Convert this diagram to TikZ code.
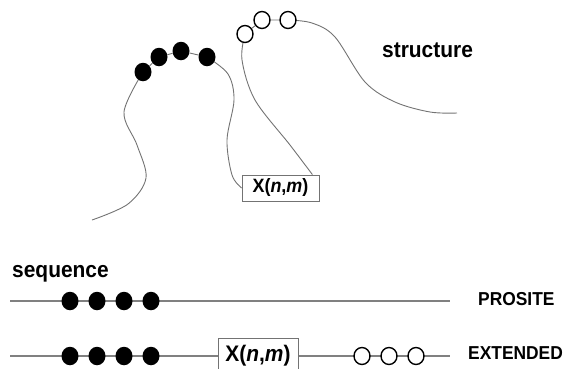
\documentclass[tikz,border=0pt]{standalone}
\usepackage{graphicx}
\usepackage{fontspec}
\setmainfont{Liberation Sans}
\usetikzlibrary{backgrounds,shapes.geometric}
\newcommand{\narrow}[1]{\scalebox{0.93}[1]{#1}}
\begin{document}
\begin{tikzpicture}[x=1pt,y=-1pt,
  strand/.style={draw=black!55, line width=0.9pt},
  seqline/.style={draw=black!50, line width=1.1pt},
  bdot/.style={ellipse, fill=black, inner sep=0pt, minimum width=17pt, minimum height=18.5pt},
  odot/.style={ellipse, draw=black, line width=1.4pt, fill=white, inner sep=0pt, minimum width=16pt, minimum height=17pt},
  xbox/.style={draw=black!55, line width=0.8pt, fill=white, inner sep=0pt},
  lab/.style={font=\bfseries\fontsize{22.5}{26}\selectfont, inner sep=0pt},
  tag/.style={font=\bfseries\fontsize{18.7}{22}\selectfont, inner sep=0pt}
]
\useasboundingbox (0,0) rectangle (565,368);
\clip (0,0) rectangle (565,368);

% ---------- structure ----------
\node[bdot] (b1) at (143,72) {};
\node[bdot] (b2) at (159,57) {};
\node[bdot] (b3) at (181,51) {};
\node[bdot] (b4) at (207,57) {};
\node[odot] (c1) at (245,34) {};
\node[odot] (c2) at (262,20) {};
\node[odot] (c3) at (288,20) {};
\node[xbox, minimum width=77pt, minimum height=26pt,
      font=\bfseries\fontsize{19.3}{22}\selectfont] (xtop) at (280.5,188) {\narrow{X(\textit{n},\textit{m})}};
\coordinate (s1) at (92,220);
\coordinate (s2) at (457,113);
\node[lab, anchor=base west] (structure) at (382,57.5) {\narrow{structure}};

% ---------- sequence ----------
\node[lab, anchor=base west] (sequence) at (12,277) {\narrow{sequence}};
\coordinate (p0) at (10,301);
\coordinate (p1) at (450,301);
\node[bdot] (pb1) at (70,301) {};
\node[bdot] (pb2) at (97,301) {};
\node[bdot] (pb3) at (124,301) {};
\node[bdot] (pb4) at (151,301) {};
\node[tag, anchor=base west] (prosite) at (478,305.5) {\narrow{PROSITE}};

\coordinate (e0) at (10,356);
\coordinate (e1) at (450,356);
\node[bdot] (eb1) at (70,356) {};
\node[bdot] (eb2) at (97,356) {};
\node[bdot] (eb3) at (124,356) {};
\node[bdot] (eb4) at (151,356) {};
\node[xbox, minimum width=80pt, minimum height=36pt,
      font=\bfseries\fontsize{22.5}{26}\selectfont] (xbot) at (258,356) {\narrow{X(\textit{n},\textit{m})}};
\node[odot] (ec1) at (362,356) {};
\node[odot] (ec2) at (389,356) {};
\node[odot] (ec3) at (416,356) {};
\node[tag, anchor=base west] (extended) at (468,359) {\narrow{EXTENDED}};

\begin{pgfonlayer}{background}
  \draw[strand] plot[smooth, tension=0.55] coordinates {(s1) (128,204) (146,178) (137,145) (124,112) (b1)};
  \draw[strand] (b1) -- (b2) -- (b3) -- (b4);
  \draw[strand] plot[smooth, tension=0.55] coordinates {(b4) (228,74) (234,100) (227,140) (232,175) (xtop.west)};
  \draw[strand] (c1) -- (c2) -- (c3);
  \draw[strand] plot[smooth, tension=0.55] coordinates {(c1) (242,60) (255,100) (290,145) ([xshift=-7pt]xtop.north east)};
  \draw[strand] plot[smooth, tension=0.55] coordinates {(c3) (312,23) (335,37) (365,82) (395,102) (430,112) (s2)};
  \draw[seqline] (p0) -- (p1);
  \draw[seqline] (e0) -- (xbot.west);
  \draw[seqline] (xbot.east) -- (e1);
\end{pgfonlayer}
\end{tikzpicture}
\end{document}
